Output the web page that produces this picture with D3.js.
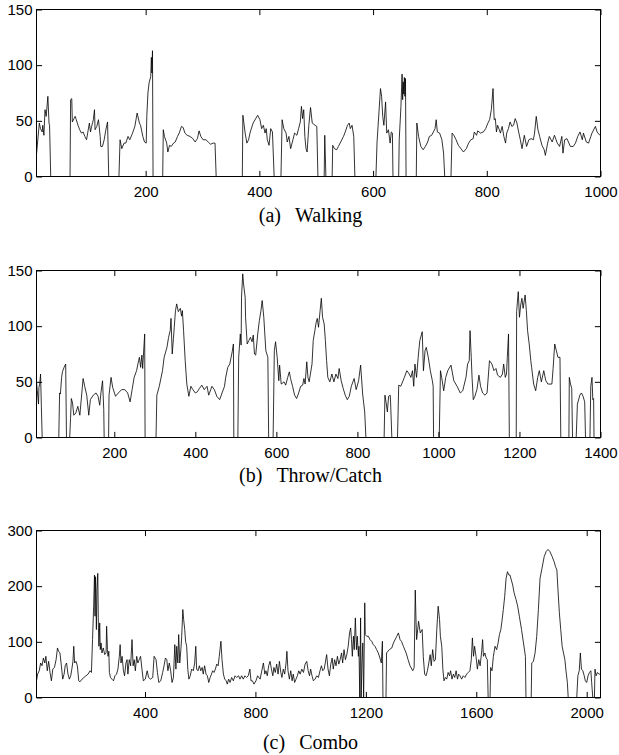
<!DOCTYPE html>
<html>
<head>
<meta charset="utf-8">
<script src="https://cdn.jsdelivr.net/npm/d3@7"></script>
<style>
	body { margin: 0; background: #fff; }
	svg { display: block; }
</style>
</head>
<body>
<svg id="chart" width="619" height="755"></svg>
<script>
// Values: [frame index, value]
const walkingSeries = [
	[8,20],[13,48],[15,43],[18,40],[19,46],[21,37],[23,60],[25,54],[27,66],[28,72],[30,48],[31,46],[33,0],
	[67,0],[68,69],[70,70],[71,49],[74,52],[76,54],[78,51],[81,46],[84,42],[87,39],[90,40],[93,36],[96,33],[98,39],[101,48],[103,40],[105,45],[108,51],[110,60],[111,42],[114,45],[117,51],[120,36],[121,27],[124,27],[127,33],[130,42],[133,49],[135,0],
	[153,0],[155,33],[158,25],[162,30],[165,30],[169,36],[172,33],[177,39],[181,45],[185,57],[189,48],[191,46],[195,36],[198,31],[201,30],[202,54],[204,75],[206,84],[209,90],[210,107],[211,93],[212,113],[213,0],
	[230,0],[231,42],[233,36],[237,30],[239,22],[242,28],[245,27],[249,30],[252,31],[256,36],[259,39],[263,45],[266,44],[269,39],[273,37],[278,36],[283,34],[287,31],[291,34],[294,41],[297,36],[301,33],[306,33],[310,31],[314,29],[319,30],[322,30],[324,0],
	[370,0],[371,55],[375,39],[378,30],[381,33],[384,40],[389,48],[397,55],[401,51],[404,43],[407,46],[410,39],[412,43],[414,33],[417,28],[420,43],[423,40],[426,0],
	[438,0],[440,51],[443,43],[447,39],[449,31],[452,36],[455,25],[459,33],[462,39],[466,37],[469,43],[472,49],[474,63],[476,52],[478,60],[480,36],[482,25],[484,22],[487,46],[490,62],[493,48],[498,46],[501,45],[503,0],
	[514,0],[515,37],[517,0],
	[528,0],[529,28],[532,25],[536,24],[539,27],[543,31],[548,36],[551,40],[555,46],[558,48],[560,43],[563,46],[566,36],[568,0],
	[605,0],[607,31],[613,79],[615,72],[617,54],[619,46],[622,67],[624,39],[627,42],[630,30],[632,40],[634,39],[635,0],
	[645,0],[646,33],[649,63],[651,92],[652,69],[653,85],[654,74],[655,89],[656,72],[657,88],[658,0],
	[676,0],[677,48],[680,36],[684,27],[688,24],[692,27],[696,31],[699,36],[703,37],[706,40],[709,43],[711,51],[713,40],[717,39],[721,33],[724,21],[726,0],
	[737,0],[739,39],[742,37],[746,33],[750,28],[759,22],[764,25],[768,30],[772,33],[776,34],[778,40],[782,37],[784,41],[789,39],[794,40],[798,43],[802,48],[805,51],[808,60],[811,79],[813,51],[815,52],[817,40],[819,46],[822,42],[824,39],[827,45],[830,36],[833,30],[835,39],[838,43],[841,49],[844,45],[847,46],[850,52],[853,48],[856,40],[859,33],[862,25],[866,37],[870,27],[874,33],[878,34],[882,33],[884,39],[887,54],[890,42],[893,36],[897,28],[901,24],[903,19],[907,30],[910,36],[915,31],[919,37],[924,30],[928,27],[932,36],[934,21],[937,33],[941,34],[947,27],[952,27],[956,30],[960,36],[964,40],[968,33],[970,39],[975,31],[979,30],[983,36],[985,39],[991,45],[994,40],[999,37],[1000,37]
];

const throwSeries = [
	[8,50],[10,42],[13,30],[14,45],[16,48],[18,57],[20,28],[22,0],
	[63,0],[65,40],[67,39],[70,54],[72,59],[76,63],[80,66],[82,0],
	[90,0],[92,17],[94,35],[97,31],[100,20],[105,22],[110,28],[115,20],[123,53],[127,46],[132,38],[137,20],[141,34],[148,38],[155,40],[160,37],[164,29],[167,40],[171,51],[174,25],[175,0],
	[186,0],[187,38],[192,54],[196,45],[203,37],[210,40],[218,43],[226,43],[233,40],[239,32],[244,43],[249,54],[255,60],[260,69],[262,72],[265,63],[268,74],[270,62],[275,93],[276,0],
	[303,0],[305,38],[311,46],[319,60],[323,72],[330,81],[334,90],[338,96],[340,107],[343,75],[346,89],[348,99],[351,114],[354,120],[358,113],[363,116],[366,109],[368,114],[371,96],[375,69],[379,48],[384,37],[389,46],[394,43],[400,40],[405,41],[410,44],[416,47],[422,43],[429,46],[433,38],[441,46],[447,43],[453,37],[460,34],[466,40],[472,46],[475,54],[480,63],[485,66],[491,77],[494,84],[495,0],
	[505,0],[507,72],[511,93],[513,83],[514,126],[517,147],[519,138],[523,126],[524,108],[528,84],[532,87],[536,90],[540,86],[543,92],[546,75],[549,74],[554,93],[558,105],[562,114],[565,123],[569,108],[574,78],[579,72],[581,0],
	[592,0],[595,78],[598,86],[602,72],[606,51],[608,65],[612,48],[619,50],[623,47],[628,54],[632,59],[635,53],[640,46],[645,38],[650,35],[655,40],[660,46],[665,47],[668,53],[671,48],[675,68],[678,54],[681,50],[684,57],[688,66],[691,87],[695,96],[698,103],[701,107],[704,99],[708,114],[711,125],[714,108],[718,102],[721,87],[724,69],[727,54],[732,50],[737,57],[742,50],[747,57],[752,53],[755,62],[760,51],[765,44],[770,38],[775,34],[780,37],[785,46],[792,53],[797,43],[803,51],[808,65],[813,39],[818,23],[821,0],
	[866,0],[868,38],[871,31],[874,23],[877,37],[881,38],[882,31],[885,0],
	[899,0],[902,47],[907,46],[916,54],[922,60],[928,57],[932,54],[936,60],[939,46],[942,66],[946,54],[950,72],[954,87],[960,95],[963,60],[967,78],[970,81],[975,72],[980,60],[985,51],[987,46],[988,0],
	[1002,0],[1005,60],[1008,54],[1013,42],[1018,54],[1023,60],[1031,65],[1038,51],[1046,46],[1054,40],[1060,42],[1064,48],[1068,54],[1072,66],[1076,69],[1078,96],[1081,72],[1083,54],[1086,34],[1090,37],[1095,43],[1100,56],[1104,46],[1109,40],[1115,38],[1120,40],[1126,69],[1132,66],[1137,60],[1142,62],[1146,56],[1153,54],[1158,57],[1161,66],[1165,54],[1168,57],[1170,72],[1173,93],[1175,0],
	[1192,0],[1193,113],[1197,131],[1200,108],[1203,119],[1206,125],[1209,116],[1214,128],[1217,114],[1220,96],[1224,84],[1228,69],[1230,63],[1235,48],[1240,42],[1245,54],[1249,60],[1254,50],[1260,60],[1265,51],[1270,48],[1280,48],[1283,62],[1287,84],[1291,78],[1295,72],[1300,72],[1302,0],
	[1322,0],[1323,54],[1326,48],[1329,44],[1331,0],
	[1340,0],[1343,30],[1349,38],[1353,40],[1357,37],[1361,32],[1363,0],
	[1374,0],[1376,46],[1379,54],[1381,34],[1383,35],[1384,0]
];

const comboSeries = [
	[7,30],[11,42],[17,48],[22,62],[27,57],[32,71],[37,62],[41,74],[46,48],[51,65],[56,45],[61,30],[66,51],[72,54],[78,68],[83,89],[87,83],[92,80],[97,57],[102,33],[107,42],[111,57],[116,62],[121,42],[126,33],[131,39],[135,51],[139,65],[142,92],[145,62],[150,65],[155,57],[160,30],[164,28],[172,33],[179,36],[186,39],[194,42],[201,48],[206,45],
	[210,104],[214,164],[217,220],[219,146],[221,217],[224,122],[226,193],[229,223],[231,134],[233,92],[236,134],[238,86],[241,98],[244,80],[249,89],[254,77],[259,80],[261,128],[264,86],[266,74],[269,83],[271,45],[275,36],[280,33],[286,30],[291,39],[297,42],[302,51],[307,74],[310,95],[313,62],[317,74],[322,48],[326,39],[331,62],[335,68],[338,42],[343,68],[348,57],[353,104],[357,57],[361,68],[365,48],[370,74],[374,62],[379,68],[384,74],[389,51],[394,30],[401,33],[408,48],[413,36],[420,33],[428,36],[433,74],[440,68],[445,45],[450,27],[457,30],[464,45],[469,57],[474,71],[479,68],[483,48],[488,62],[493,48],[498,27],[503,36],[508,95],[512,51],[515,92],[519,62],[522,113],[526,62],[530,86],[533,110],[537,158],[540,140],[544,122],[547,101],[551,92],[555,51],[559,33],[564,39],[569,51],[575,48],[580,62],[584,92],[587,51],[592,48],[597,57],[602,48],[607,54],[611,42],[616,57],[621,42],[626,39],[631,27],[636,36],[641,42],[645,48],[650,45],[655,51],[660,60],[665,57],[669,74],
	[675,101],[679,68],[684,42],[689,33],[694,30],[698,24],[703,33],[708,27],[714,36],[720,30],[726,39],[732,36],[739,39],[744,33],[750,39],[756,33],[762,39],[768,36],[774,39],[780,51],[784,30],[789,30],[795,24],[802,30],[808,39],[817,33],[823,48],[829,62],[834,42],[838,48],[843,39],[848,57],[853,65],[858,51],[863,39],[867,54],[872,45],[877,60],[882,42],[887,65],[892,45],[896,36],[901,51],[906,42],[911,62],[914,83],[918,48],[923,33],[928,48],[933,30],[937,42],[942,27],[947,33],[952,39],[957,48],[962,42],[968,51],[974,45],[980,60],[986,65],[991,48],[996,39],[1000,51],[1005,39],[1010,30],[1016,33],[1022,39],[1028,36],[1034,48],[1039,57],[1044,48],[1049,51],[1053,62],[1058,77],[1063,51],[1068,39],[1073,60],[1078,71],[1082,51],[1087,68],[1092,57],[1097,74],[1102,60],[1107,68],[1112,80],[1116,62],[1121,86],[1126,68],[1131,77],[1136,92],[1141,116],[1145,125],[1148,104],[1151,74],[1155,110],[1158,86],[1162,143],[1166,86],[1169,110],[1173,74],[1175,92],[1178,0],[1181,143],[1183,0],[1186,62],[1189,98],[1192,0],
	[1196,170],[1198,113],[1203,110],[1209,110],[1215,104],[1221,101],[1227,95],[1233,92],[1239,86],[1245,80],[1251,71],[1256,62],[1260,101],[1262,0],
	[1273,0],[1275,80],[1285,86],[1294,89],[1300,98],[1312,110],[1318,116],[1324,104],[1329,101],[1336,92],[1346,80],[1353,68],[1360,57],[1370,48],[1375,54],[1379,193],[1382,134],[1384,104],[1391,137],[1397,116],[1404,122],[1408,74],[1413,42],[1418,39],[1423,48],[1428,62],[1433,77],[1437,57],[1442,86],[1447,65],[1452,68],[1457,122],[1462,164],[1467,140],[1470,110],[1475,92],[1479,51],[1483,30],[1488,36],[1493,33],[1498,45],[1503,39],[1507,48],[1512,33],[1517,42],[1522,36],[1527,48],[1532,33],[1536,42],[1541,39],[1547,33],[1553,39],[1559,36],[1565,42],[1571,45],[1577,48],[1582,68],[1586,107],[1590,74],[1594,92],[1599,74],[1604,51],[1609,68],[1614,57],[1619,80],[1623,104],[1626,74],[1631,80],[1636,71],[1640,68],[1643,0],
	[1650,0],[1652,54],[1657,48],[1662,74],[1668,92],[1674,86],[1679,98],[1684,113],[1689,122],[1693,137],[1698,158],[1703,182],[1708,214],[1713,226],[1718,220],[1722,220],[1727,211],[1732,202],[1737,188],[1744,176],[1750,164],[1756,146],[1764,122],[1771,98],[1778,74],[1780,0],
	[1799,0],[1801,62],[1807,65],[1813,80],[1819,110],[1825,158],[1831,214],[1838,232],[1846,253],[1853,262],[1860,266],[1867,262],[1875,253],[1882,244],[1887,235],[1892,229],[1896,193],[1901,152],[1906,122],[1911,92],[1916,80],[1921,68],[1925,48],[1930,27],[1933,0],
	[1964,0],[1968,39],[1973,48],[1977,80],[1981,51],[1986,48],[1991,39],[1995,30],[2000,27],[2005,39],[2010,45],[2015,48],[2018,27],[2022,0],
	[2028,0],[2030,51],[2034,39],[2039,45],[2044,42],[2048,42]
];

const walkingXTicks = [200, 400, 600, 800, 1000];
const throwXTicks = [200, 400, 600, 800, 1000, 1200, 1400];
const comboXTicks = [400, 800, 1200, 1600, 2000];
const walkingYTicks = [0, 50, 100, 150];
const throwYTicks = [0, 50, 100, 150];
const comboYTicks = [0, 100, 200, 300];

const panels = [
	{ series: walkingSeries, xDomain: [8, 1000], yMax: 150, xTicks: walkingXTicks, yTicks: walkingYTicks, top: 9.5, tag: "(a)", name: "Walking", captionY: 222 },
	{ series: throwSeries, xDomain: [8, 1400], yMax: 150, xTicks: throwXTicks, yTicks: throwYTicks, top: 270.5, tag: "(b)", name: "Throw/Catch", captionY: 482 },
	{ series: comboSeries, xDomain: [7, 2050], yMax: 300, xTicks: comboXTicks, yTicks: comboYTicks, top: 530.5, tag: "(c)", name: "Combo", captionY: 749 },
];

function whenDocumentLoaded(action) {
	if (document.readyState === "loading") {
		document.addEventListener("DOMContentLoaded", action);
	} else {
		action();
	}
}

const left = 36.5;
const right = 600.5;
const panelHeight = 167;
const tickLen = 5.6;
const plainNumber = d3.format("d");

function drawPanel(svg, p) {
	const x = d3.scaleLinear().domain(p.xDomain).range([left, right]);
	const y = d3.scaleLinear().domain([0, p.yMax]).range([p.top + panelHeight, p.top]);
	const g = svg.append("g");

	// data line
	const line = d3.line().x((d) => x(d[0])).y((d) => y(d[1]));
	g.append("path")
		.datum(p.series)
		.attr("fill", "none")
		.attr("stroke", "#000")
		.attr("stroke-width", 0.8)
		.attr("stroke-linejoin", "round")
		.attr("d", line);

	// axes, ticks pointing inward on all four sides
	const axes = [
		{ axis: d3.axisBottom(x).tickValues(p.xTicks).tickFormat(plainNumber), at: `translate(0,${p.top + panelHeight})`, pad: 10 },
		{ axis: d3.axisTop(x).tickValues(p.xTicks).tickFormat(""), at: `translate(0,${p.top})`, pad: 0 },
		{ axis: d3.axisLeft(y).tickValues(p.yTicks).tickFormat(plainNumber), at: `translate(${left},0)`, pad: 4 },
		{ axis: d3.axisRight(y).tickValues(p.yTicks).tickFormat(""), at: `translate(${right},0)`, pad: 0 },
	];
	axes.forEach((a) => {
		const ag = g.append("g")
			.attr("transform", a.at)
			.call(a.axis.tickSizeInner(-tickLen).tickSizeOuter(0).tickPadding(a.pad));
		ag.select(".domain").remove();
		ag.selectAll("line").attr("stroke", "#000").attr("stroke-width", 1);
		ag.selectAll("text")
			.attr("fill", "#000")
			.style("font-family", "'Liberation Sans', Arial, sans-serif")
			.style("font-size", "15px");
	});

	// frame
	g.append("rect")
		.attr("x", left)
		.attr("y", p.top)
		.attr("width", right - left)
		.attr("height", panelHeight)
		.attr("fill", "none")
		.attr("stroke", "#000")
		.attr("stroke-width", 1);

	// caption
	const cap = g.append("text")
		.attr("x", 310.5)
		.attr("y", p.captionY)
		.attr("text-anchor", "middle")
		.style("font-family", "'Liberation Serif', 'Times New Roman', serif")
		.style("font-size", "20px")
		.attr("fill", "#000")
		.text(p.tag);
	cap.append("tspan").attr("dx", 14).text(p.name);
}

whenDocumentLoaded(() => {
	const svg = d3.select("#chart");
	panels.forEach((p) => drawPanel(svg, p));
});
</script>
</body>
</html>
